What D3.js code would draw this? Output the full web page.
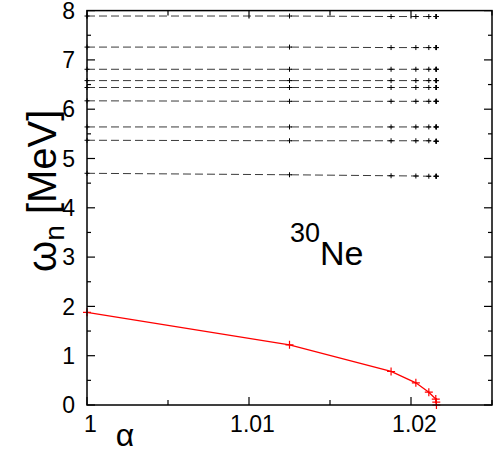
<!DOCTYPE html>
<html><head><meta charset="utf-8">
<script src="https://cdn.jsdelivr.net/npm/d3@7"></script>
<style>body{margin:0;background:#fff}svg{display:block}text{font-family:"Liberation Sans",Arial,sans-serif;fill:#000}</style>
</head><body><svg id="c" width="500" height="454"></svg>
<script>
// alpha values of computed points
const alphaVals = [1.0, 1.0125, 1.01877, 1.0203, 1.0211, 1.02153, 1.02156, 1.02157];
// lowest (soft) mode, red
const softMode = [1.88, 1.22, 0.68, 0.45, 0.26, 0.12, 0.06, 0.0];
// higher modes, dashed black
const highModes = [
  [7.89, 7.89, 7.88, 7.88, 7.88, 7.88, 7.88, 7.88],
  [7.26, 7.26, 7.25, 7.25, 7.25, 7.25, 7.25, 7.25],
  [6.81, 6.81, 6.81, 6.81, 6.81, 6.81, 6.81, 6.81],
  [6.58, 6.58, 6.58, 6.58, 6.58, 6.58, 6.58, 6.58],
  [6.44, 6.44, 6.44, 6.44, 6.44, 6.44, 6.44, 6.44],
  [6.17, 6.16, 6.16, 6.16, 6.16, 6.16, 6.16, 6.16],
  [5.64, 5.64, 5.64, 5.64, 5.64, 5.64, 5.64, 5.64],
  [5.37, 5.36, 5.36, 5.36, 5.36, 5.35, 5.35, 5.35],
  [4.70, 4.67, 4.65, 4.645, 4.64, 4.64, 4.64, 4.64]
];
const xMajor = [1, 1.01, 1.02];
const xMajorLabels = ["1", "1.01", "1.02"];
const xMinor = [1.005, 1.015, 1.025];
const yMajor = [0,1,2,3,4,5,6,7,8];
const yMinor = [0.5,1.5,2.5,3.5,4.5,5.5,6.5,7.5];

const L=87, R=492, T=10.6, B=405;
const x = d3.scaleLinear().domain([1,1.025]).range([L,R]);
const y = d3.scaleLinear().domain([0,8]).range([B,T]);
const svg = d3.select("#c");

// dashed modes
const line = d3.line().x((d,i)=>x(alphaVals[i])).y(d=>y(d));
const gH = svg.append("g");
highModes.forEach(m=>{
  gH.append("path").attr("d", line(m)).attr("fill","none")
    .attr("stroke","#3a3a3a").attr("stroke-width",1).attr("stroke-dasharray","8,4");
  m.forEach((v,i)=>{
    const cx=x(alphaVals[i]), cy=y(v), s=2.5;
    gH.append("path").attr("d",`M${cx-s},${cy}H${cx+s}M${cx},${cy-s}V${cy+s}`)
      .attr("stroke","#000").attr("stroke-width",1);
  });
});
// red soft mode
svg.append("path").attr("d", line(softMode)).attr("fill","none")
  .attr("stroke","#ff0000").attr("stroke-width",1.3);
softMode.forEach((v,i)=>{
  const cx=x(alphaVals[i]), cy=y(v), s=4;
  svg.append("path").attr("d",`M${cx-s},${cy}H${cx+s}M${cx},${cy-s}V${cy+s}`)
    .attr("stroke","#ff0000").attr("stroke-width",1.2);
});

// frame
svg.append("rect").attr("x",L).attr("y",T).attr("width",R-L).attr("height",B-T)
  .attr("fill","none").attr("stroke","#000").attr("stroke-width",1.5);

// ticks (inward, mirrored)
const tk = svg.append("g").attr("stroke","#000").attr("stroke-width",1.2);
xMajor.forEach(v=>{tk.append("line").attr("x1",x(v)).attr("x2",x(v)).attr("y1",B).attr("y2",B-8);
  tk.append("line").attr("x1",x(v)).attr("x2",x(v)).attr("y1",T).attr("y2",T+8);});
xMinor.forEach(v=>{tk.append("line").attr("x1",x(v)).attr("x2",x(v)).attr("y1",B).attr("y2",B-5);
  tk.append("line").attr("x1",x(v)).attr("x2",x(v)).attr("y1",T).attr("y2",T+5);});
yMajor.forEach(v=>{tk.append("line").attr("y1",y(v)).attr("y2",y(v)).attr("x1",L).attr("x2",L+8);
  tk.append("line").attr("y1",y(v)).attr("y2",y(v)).attr("x1",R).attr("x2",R-8);});
yMinor.forEach(v=>{tk.append("line").attr("y1",y(v)).attr("y2",y(v)).attr("x1",L).attr("x2",L+4);
  tk.append("line").attr("y1",y(v)).attr("y2",y(v)).attr("x1",R).attr("x2",R-4);});

// tick labels
xMajor.forEach((v,i)=>svg.append("text").attr("x",x(v)+3.5).attr("y",432)
  .attr("text-anchor","middle").attr("font-size",23).text(xMajorLabels[i]));
yMajor.forEach(v=>svg.append("text").attr("x",75).attr("y",y(v)+8.2)
  .attr("text-anchor","end").attr("font-size",23).text(v));

// axis labels
svg.append("text").attr("x",125).attr("y",446).attr("text-anchor","middle")
  .attr("font-size",32).text("α");
const yl = svg.append("text").attr("transform","translate(56,272) rotate(-90)")
  .attr("font-size",40);
yl.append("tspan").text("ω");
yl.append("tspan").attr("font-size",28).attr("dy",8).text("n");
yl.append("tspan").attr("dy",-8).text(" [MeV]");

// nucleus label
const nl = svg.append("text").attr("x",290).attr("y",265).attr("font-size",34);
nl.append("tspan").attr("font-size",27).attr("dy",-23).text("30");
nl.append("tspan").attr("dy",23).text("Ne");
</script></body></html>
